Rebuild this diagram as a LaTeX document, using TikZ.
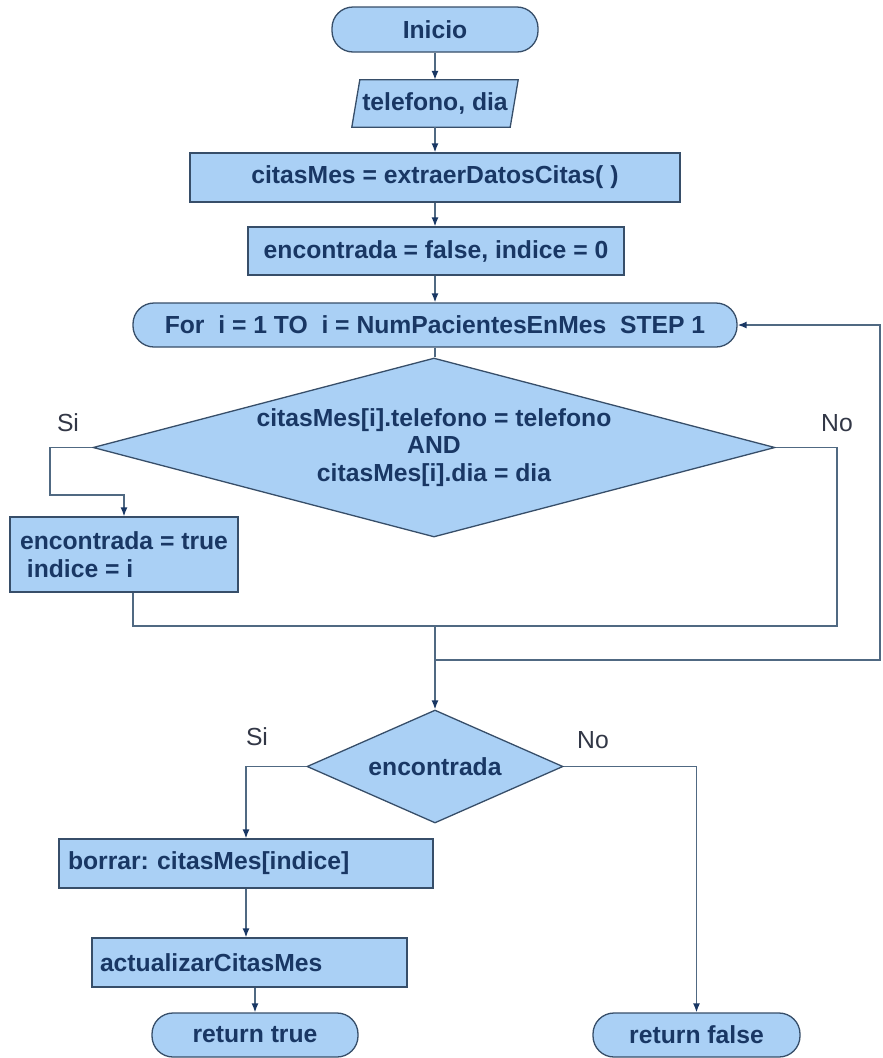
\documentclass[tikz,border=0pt]{standalone}
\usepackage{fontspec}
\setmainfont{Liberation Sans}
\usetikzlibrary{arrows.meta,shapes.geometric,backgrounds}
\definecolor{boxfill}{RGB}{170,208,245}
\definecolor{boxdraw}{RGB}{55,78,105}
\definecolor{linec}{RGB}{80,105,130}
\definecolor{txtc}{RGB}{25,55,100}
\definecolor{lblc}{RGB}{50,55,70}
\frenchspacing
\begin{document}
\begin{tikzpicture}[x=1pt,y=-1pt,
  every node/.style={font=\fontsize{24.7}{27.5}\selectfont\bfseries, text=txtc},
  proc/.style={draw=boxdraw, fill=boxfill, line width=1.3pt, rectangle, inner sep=0pt},
  term/.style={proc, rounded corners=21pt},
  cond/.style={draw=boxdraw, fill=boxfill, line width=1.3pt, diamond, inner sep=0pt, align=center},
  conn/.style={draw=linec, line width=1.4pt},
  arr/.style={conn, -{Latex[length=9pt,width=7pt,color=txtc]}},
  lbl/.style={font=\fontsize{24.7}{27.5}\selectfont, text=lblc}
]
\useasboundingbox (0,0) rectangle (883,1058);

\node[term, minimum width=206pt, minimum height=45pt] (ini) at (435,29.5) {Inicio};
\node[inner sep=0pt, minimum width=166pt, minimum height=47pt] (par) at (435,103.5) {telefono, dia};
\begin{scope}[on background layer]
\fill[white] (0,0) rectangle (883,1058);
\draw[draw=boxdraw, fill=boxfill, line width=1.3pt] ([xshift=8pt]par.north west) -- (par.north east) -- ([xshift=-8pt]par.south east) -- (par.south west) -- cycle;
\end{scope}
\node[proc, minimum width=490pt, minimum height=49pt] (ext) at (435,177.5) {citasMes = extraerDatosCitas( )};
\node[proc, minimum width=376pt, minimum height=48pt] (enc0) at (436,251) {encontrada = false, indice = 0};
\node[term, minimum width=604pt, minimum height=44pt] (for) at (435,325) {For\ \ i = 1 TO\ \ i = NumPacientesEnMes\ \ STEP 1};
\node[cond, minimum width=682pt, minimum height=179pt, aspect=3.81] (d1) at (434,447.5) {citasMes[i].telefono = telefono\\AND\\citasMes[i].dia = dia};
\node[proc, minimum width=228pt, minimum height=75pt, align=left] (enct) at (124,554.5) {encontrada = true\\\ indice = i};
\node[cond, minimum width=256pt, minimum height=113pt, aspect=2.27] (d2) at (435,766.5) {encontrada};
\node[proc, minimum width=374pt, minimum height=49pt, text width=356pt, inner xsep=9pt, align=left] (bor) at (246,863.5) {borrar: citasMes[indice]};
\node[proc, minimum width=315pt, minimum height=49pt, text width=299pt, inner xsep=8pt, align=left] (act) at (249.5,962.5) {actualizarCitasMes};
\node[term, minimum width=206pt, minimum height=44pt] (rtrue) at (255,1035) {return true};
\node[term, minimum width=207pt, minimum height=44pt] (rfalse) at (696.5,1035) {return false};

\node[lbl] (si1) at (68,423) {Si};
\node[lbl] (no1) at (837,423) {No};
\node[lbl] (si2) at (257,737) {Si};
\node[lbl] (no2) at (593,740) {No};

\coordinate (sl) at (50,495);
\coordinate (mg) at (435,626);
\coordinate (mr) at (837,626);
\coordinate (lp) at (435,660);
\coordinate (lr) at (880,660);

\draw[arr] (ini.south) -- (par.north);
\draw[arr] (par.south) -- (ext.north);
\draw[arr] (ext.south) -- (ext.south |- enc0.north);
\draw[arr] (for.north |- enc0.south) -- (for.north);
\draw[conn] (for.south) -- (for.south |- d1.north);
\draw[arr] (d1.west) -| (sl) -| (enct.north);
\draw[conn] ([xshift=9pt]enct.south) |- (mg);
\draw[conn] (d1.east) -| (mr) -- (mg);
\draw[arr] (mg) -- (d2.north);
\draw[arr] (lp) -- (lr) |- (for.east);
\draw[arr] (d2.west) -| (bor.north);
\draw[arr] (bor.south) -- (bor.south |- act.north);
\draw[arr] (act.south -| rtrue.north) -- (rtrue.north);
\draw[arr] (d2.east) -| (rfalse.north);
\end{tikzpicture}
\end{document}
